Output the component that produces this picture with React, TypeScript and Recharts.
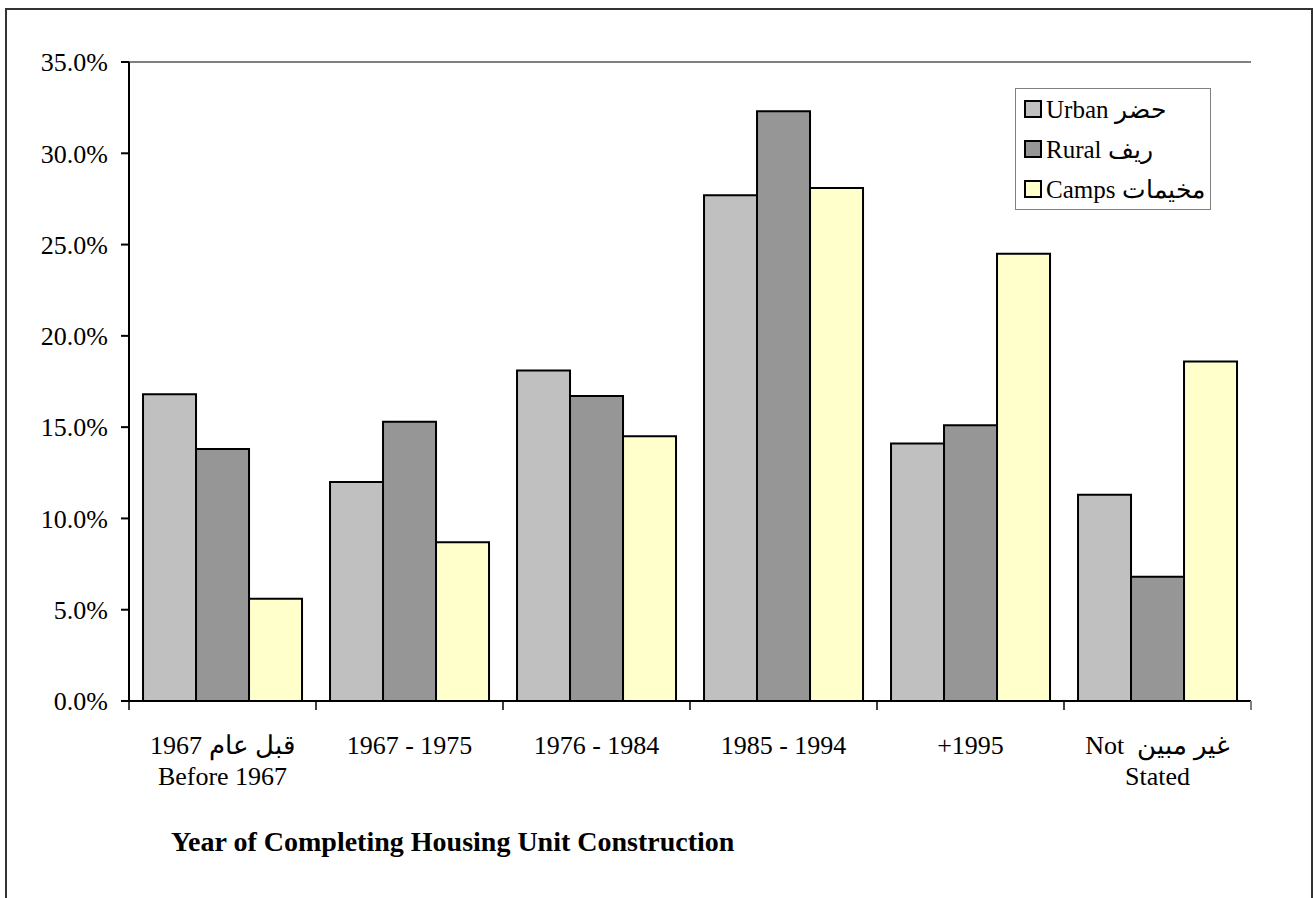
import React from 'react';
import { Bar, BarChart, Legend, ReferenceLine, XAxis, YAxis } from 'recharts';

const categories = ['before1967', '1967-1975', '1976-1984', '1985-1994', '1995+', 'notStated'];
const labelLine1 = ['قبل عام 1967', '1967 - 1975', '1976 - 1984', '1985 - 1994', '+1995', 'Not  غير مبين'];
const labelLine2 = ['Before 1967', '', '', '', '', 'Stated'];

const urban = [16.8, 12.0, 18.1, 27.7, 14.1, 11.3];
const rural = [13.8, 15.3, 16.7, 32.3, 15.1, 6.8];
const camps = [5.6, 8.7, 14.5, 28.1, 24.5, 18.6];

const seriesNames = ['Urban  حضر', 'Rural  ريف', 'Camps  مخيمات'];
const seriesColors = ['#C0C0C0', '#969696', '#FFFFCC'];
const yTicks = [0, 5, 10, 15, 20, 25, 30, 35];

const FONT = "'Liberation Serif', 'Times New Roman', serif";

const data = categories.map((c, i) => ({
  name: c,
  urban: urban[i],
  rural: rural[i],
  camps: camps[i],
}));

const CategoryTick = (props: any) => {
  const { x, y, payload } = props;
  const i = categories.indexOf(payload.value);
  const half = payload.offset ?? 0;
  return (
    <g>
      <line x1={x - half} y1={y} x2={x - half} y2={y + 9} stroke="#000" strokeWidth={1.5} />
      {i === categories.length - 1 && (
        <line x1={x + half} y1={y} x2={x + half} y2={y + 9} stroke="#808080" strokeWidth={2} />
      )}
      <text x={x} y={y + 53} textAnchor="middle" fontSize={26} fontFamily={FONT} fill="#000" style={{ whiteSpace: 'pre' }}>
        {labelLine1[i]}
      </text>
      {labelLine2[i] && (
        <text x={x} y={y + 84} textAnchor="middle" fontSize={26} fontFamily={FONT} fill="#000">
          {labelLine2[i]}
        </text>
      )}
    </g>
  );
};

const LegendBox = () => (
  <div
    style={{
      border: '1px solid #808080',
      background: '#fff',
      padding: '0 4px 0 8px',
      fontFamily: FONT,
      fontSize: 25,
      color: '#000',
      boxSizing: 'border-box',
    }}
  >
    {seriesNames.map((name, i) => (
      <div key={name} style={{ display: 'flex', alignItems: 'center', height: 40, whiteSpace: 'nowrap' }}>
        <span
          style={{
            display: 'inline-block',
            flexShrink: 0,
            width: 14,
            height: 14,
            background: seriesColors[i],
            border: '2px solid #000',
            marginRight: 4,
          }}
        />
        <span>{name}</span>
      </div>
    ))}
  </div>
);

export default function App() {
  return (
    <div style={{ position: 'absolute', left: 0, top: 0, width: 1313, height: 898, overflow: 'hidden', background: '#fff' }}>
      <div
        style={{
          position: 'absolute',
          left: 5,
          top: 8,
          width: 1308,
          height: 910,
          border: '2px solid #333',
          boxSizing: 'border-box',
        }}
      />
      <div style={{ position: 'absolute', left: 0, top: 0 }}>
        <BarChart
          width={1313}
          height={898}
          data={data}
          margin={{ top: 62, right: 62, left: 0, bottom: 0 }}
          barCategoryGap="7.5%"
          barGap={0}
        >
          <XAxis
            dataKey="name"
            height={197}
            stroke="#000"
            strokeWidth={2}
            tickLine={false}
            tickSize={0}
            tickMargin={0}
            interval={0}
            tick={<CategoryTick />}
          />
          <YAxis
            width={129}
            domain={[0, 35]}
            ticks={yTicks}
            interval={0}
            stroke="#000"
            strokeWidth={2}
            tickSize={8}
            tickMargin={13}
            tickFormatter={(v: number) => `${v.toFixed(1)}%`}
            tick={{ fontSize: 26, fontFamily: FONT, fill: '#000' }}
          />
          <YAxis
            yAxisId="r"
            orientation="right"
            width={0}
            domain={[0, 35]}
            tick={false}
            tickLine={false}
            stroke="#808080"
            strokeWidth={2}
          />
          <ReferenceLine y={35} stroke="#808080" strokeWidth={2} />
          <Legend
            layout="vertical"
            align="center"
            verticalAlign="middle"
            wrapperStyle={{ left: 1015, top: 88, width: 196 }}
            content={<LegendBox />}
          />
          <Bar dataKey="urban" name={seriesNames[0]} fill={seriesColors[0]} stroke="#000" strokeWidth={2} isAnimationActive={false} />
          <Bar dataKey="rural" name={seriesNames[1]} fill={seriesColors[1]} stroke="#000" strokeWidth={2} isAnimationActive={false} />
          <Bar dataKey="camps" name={seriesNames[2]} fill={seriesColors[2]} stroke="#000" strokeWidth={2} isAnimationActive={false} />
        </BarChart>
      </div>
      <div
        style={{
          position: 'absolute',
          left: 171,
          top: 826,
          fontFamily: FONT,
          fontSize: 28,
          fontWeight: 'bold',
          color: '#000',
          whiteSpace: 'pre',
        }}
      >
        Year of Completing Housing Unit Construction
      </div>
    </div>
  );
}
